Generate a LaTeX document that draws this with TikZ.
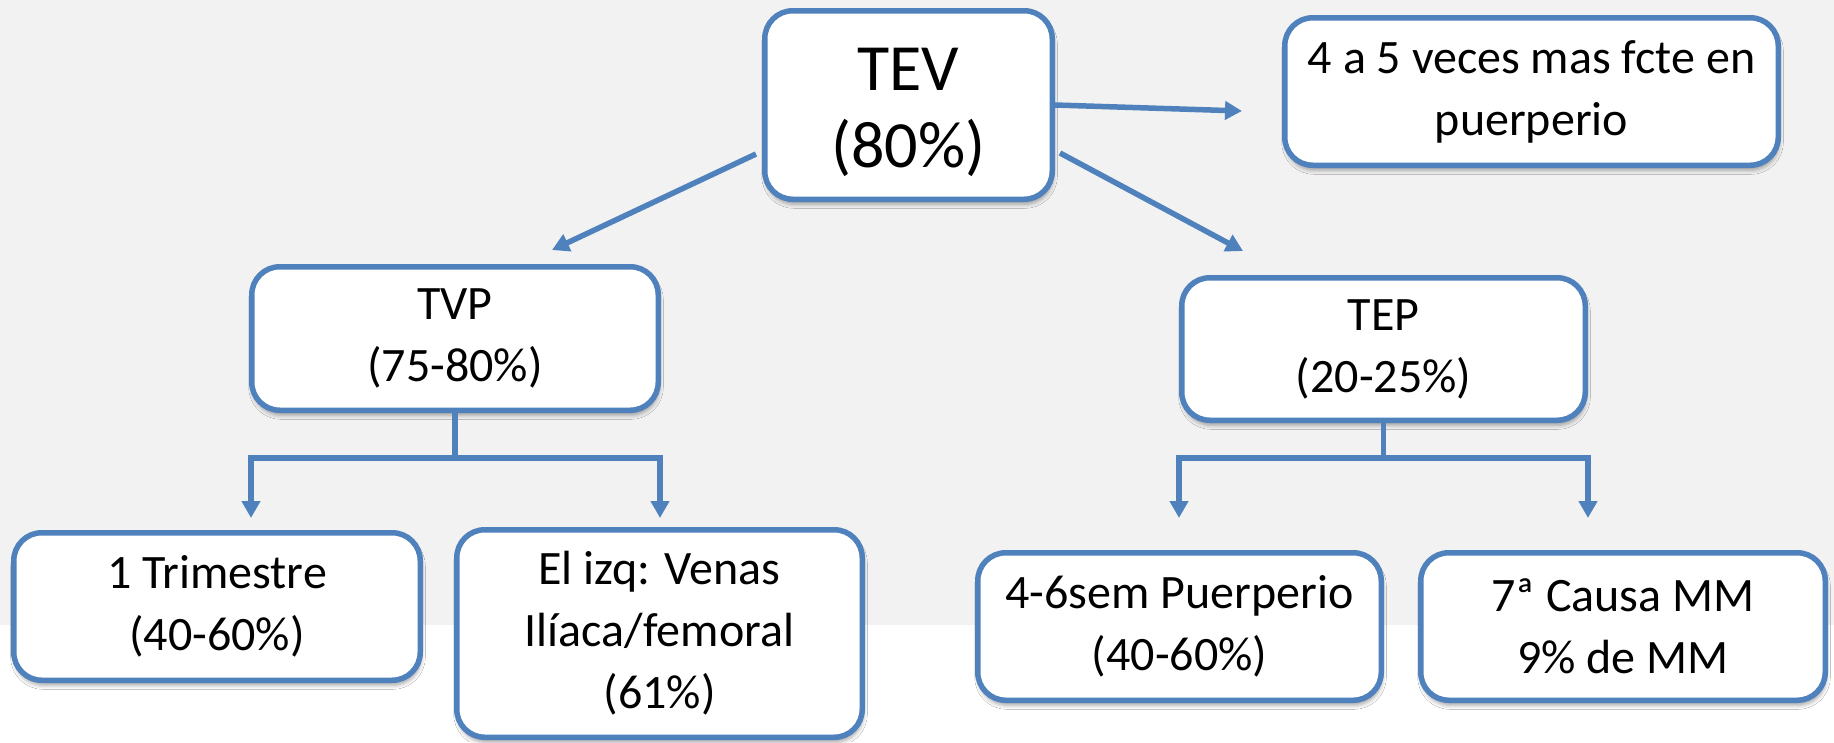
\documentclass[tikz,border=0pt]{standalone}
\usepackage{fontspec}
\setmainfont{Carlito}
\usetikzlibrary{arrows.meta,shadows.blur}
\definecolor{boxblue}{HTML}{4F81BD}
\definecolor{slidegray}{HTML}{F2F2F2}
\begin{document}
\begin{tikzpicture}[x=1pt,y=-1pt,
  box/.style={draw=boxblue, line width=5.5pt, fill=white, rounded corners=28pt,
    align=center, inner sep=0pt, font=\fontsize{48}{62}\selectfont,
    blur shadow={shadow xshift=1pt, shadow yshift=-5pt, shadow blur radius=4pt, shadow opacity=35}},
  link/.style={draw=boxblue, line width=5.5pt},
  tip/.style={-{Triangle[length=17pt,width=18pt]}}
]
% slide background
\fill[slidegray] (0,0) rectangle (1834,625);
\fill[white] (0,625) rectangle (1834,742);
\useasboundingbox (0,0) rectangle (1834,742);

% boxes
\node[box, minimum width=287.5pt, minimum height=188.5pt, font=\fontsize{66}{77}\selectfont]
  (tev) at (908.5,105) {\rule{0pt}{58pt}TEV\\(80\%)};
\node[box, minimum width=493.5pt, minimum height=147.5pt]
  (info) at (1531.5,91.5) {4 a 5 veces mas fcte en\\puerperio};
\node[box, minimum width=406.5pt, minimum height=143.5pt]
  (tvp) at (455,338.5) {TVP\\(75-80\%)};
\node[box, minimum width=403.5pt, minimum height=142.5pt]
  (tep) at (1383.5,349) {TEP\\(20-25\%)};
\node[box, minimum width=406.5pt, minimum height=147.5pt]
  (tri) at (217,606.5) {1 Trimestre\\(40-60\%)};
\node[box, minimum width=405.5pt, minimum height=207.5pt]
  (izq) at (659.5,633.5) {El izq: Venas\\Ilíaca/femoral\\(61\%)};
\node[box, minimum width=403.5pt, minimum height=147.5pt]
  (sem) at (1179.5,626.5) {4-6sem Puerperio\\(40-60\%)};
\node[box, minimum width=404.5pt, minimum height=147.5pt]
  (causa) at (1623,626.5) {7ª Causa MM\\9\% de MM};

% free ends of the connectors
\coordinate (infoEnd) at (1242,111);
\coordinate (tepStart) at (1060,153);
\coordinate (tepEnd) at (1243,251);
\coordinate (tvpStart) at (756,154);
\coordinate (tvpEnd) at (552,250);
\coordinate (tvpBar) at (455,458);
\coordinate (triEnd) at (251,518);
\coordinate (izqEnd) at (660,518);
\coordinate (tepBar) at (1383.5,458);
\coordinate (semEnd) at (1179,518);
\coordinate (causaEnd) at (1588,518);

% connectors from TEV
\draw[link,tip] (tev.east) -- (infoEnd);
\draw[link,tip] (tepStart) -- (tepEnd);
\draw[link,tip] (tvpStart) -- (tvpEnd);

% TVP branches
\draw[link] (tvp.south) -- (tvpBar);
\draw[link,tip] (tvpBar) -| (triEnd);
\draw[link,tip] (tvpBar) -| (izqEnd);

% TEP branches
\draw[link] (tep.south) -- (tepBar);
\draw[link,tip] (tepBar) -| (semEnd);
\draw[link,tip] (tepBar) -| (causaEnd);
\end{tikzpicture}
\end{document}
